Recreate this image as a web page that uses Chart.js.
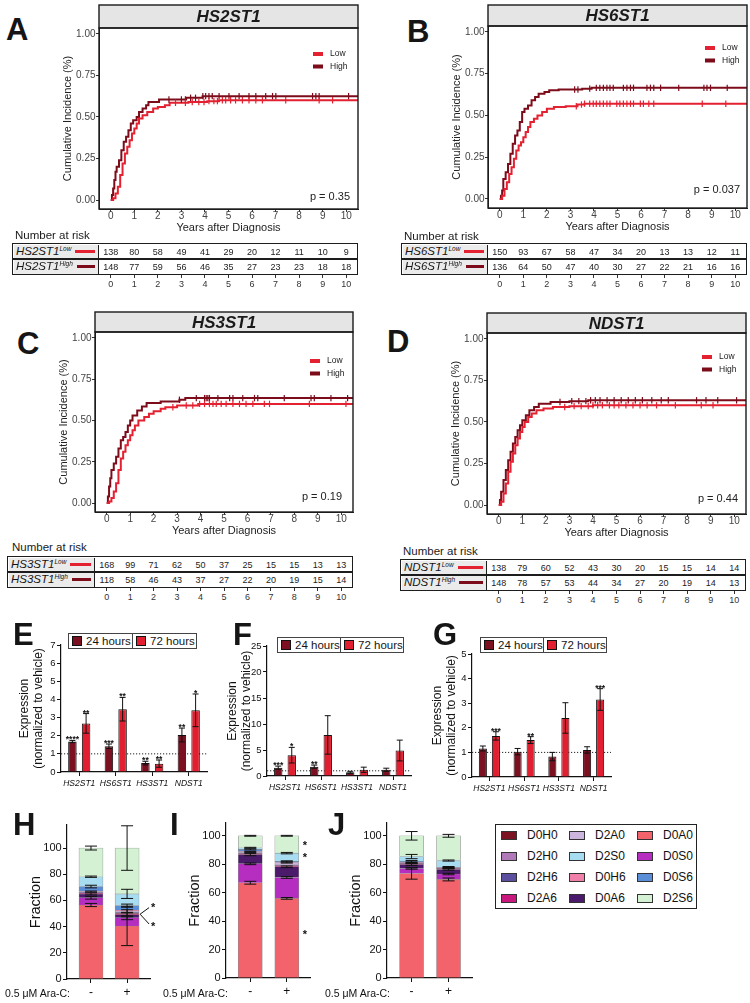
<!DOCTYPE html>
<html lang="en">
<head>
<meta charset="utf-8">
<title>Heparan sulfate enzymes figure</title>
<script src="https://cdn.jsdelivr.net/npm/chart.js@4.4.1/dist/chart.umd.min.js"></script>
<style>
  html, body { margin: 0; padding: 0; background: #fff; }
  #fig { position: relative; width: 750px; height: 1003px; overflow: hidden;
         font-family: "Liberation Sans", Arial, Helvetica, sans-serif; color: #151515; }
  #fig canvas { position: absolute; }
  .letter { position: absolute; font-weight: bold; font-size: 31px; line-height: 31px; }
</style>
</head>
<body>
<div id="fig"></div>
<script>
// ---------- cumulative incidence curves: [years, incidence] steps ----------
const kmTimes = [0, 1, 2, 3, 4, 5, 6, 7, 8, 9, 10];
const kmYTicks = [0, 0.25, 0.5, 0.75, 1];

const hs2Low = [[0,0],[0.1,0.01],[0.2,0.04],[0.3,0.08],[0.4,0.15],[0.5,0.22],[0.6,0.28],[0.7,0.32],[0.8,0.36],[0.9,0.40],[1.0,0.43],[1.1,0.46],[1.2,0.49],[1.35,0.51],[1.55,0.53],[1.8,0.55],[2.0,0.56],[2.3,0.57],[2.5,0.585],[3.3,0.59],[4.1,0.595],[4.6,0.60],[10.5,0.60]];
const hs2High = [[0,0],[0.05,0.03],[0.1,0.07],[0.15,0.12],[0.2,0.17],[0.25,0.2],[0.35,0.24],[0.45,0.3],[0.55,0.35],[0.65,0.38],[0.75,0.42],[0.85,0.46],[0.95,0.48],[1.1,0.5],[1.2,0.53],[1.35,0.55],[1.5,0.57],[1.6,0.59],[2.05,0.605],[3.2,0.615],[3.9,0.625],[10.5,0.625]];
const hs2LowCens = [2.75,3.17,3.46,3.74,3.96,4.17,4.38,4.53,4.74,4.88,5.09,5.3,5.59,5.87,6.16,6.44,7.43,8.85,9.42];
const hs2HighCens = [2.47,3.0,3.17,3.39,3.6,3.91,4.03,4.17,4.31,4.6,5.02,5.45,5.87,6.16,6.58,6.87,7.01,8.57,8.71,8.85,10.1];
const hs2RiskLow = [138,80,58,49,41,29,20,12,11,10,9];
const hs2RiskHigh = [148,77,59,56,46,35,27,23,23,18,18];

const hs6Low = [[0,0],[0.1,0.02],[0.2,0.06],[0.3,0.1],[0.4,0.15],[0.5,0.19],[0.6,0.24],[0.7,0.29],[0.8,0.32],[0.9,0.34],[1.0,0.37],[1.1,0.40],[1.2,0.43],[1.3,0.46],[1.45,0.48],[1.6,0.50],[1.8,0.52],[2.0,0.54],[2.3,0.55],[2.8,0.555],[3.3,0.565],[3.6,0.57],[10.5,0.57]];
const hs6High = [[0,0],[0.05,0.02],[0.1,0.05],[0.15,0.12],[0.25,0.16],[0.35,0.21],[0.45,0.27],[0.55,0.33],[0.65,0.38],[0.75,0.41],[0.85,0.46],[0.95,0.52],[1.05,0.54],[1.2,0.56],[1.35,0.59],[1.5,0.61],[1.65,0.63],[1.9,0.64],[2.1,0.65],[2.5,0.655],[3.5,0.66],[3.9,0.665],[10.5,0.665]];
const hs6LowCens = [3.25,3.47,3.6,3.82,3.97,4.1,4.25,4.4,4.55,4.68,4.97,5.1,5.25,5.4,5.55,5.68,5.97,6.1,6.33,6.54,8.6,9.6];
const hs6HighCens = [3.18,3.32,3.82,4.1,4.25,4.4,4.55,4.68,4.82,5.25,5.4,5.55,5.68,6.25,6.4,6.54,6.83,7.6,8.67,8.8,8.95,9.66];
const hs6RiskLow = [150,93,67,58,47,34,20,13,13,12,11];
const hs6RiskHigh = [136,64,50,47,40,30,27,22,21,16,16];

const hs3Low = [[0,0],[0.1,0.01],[0.2,0.03],[0.3,0.07],[0.4,0.12],[0.5,0.2],[0.6,0.27],[0.7,0.31],[0.8,0.35],[0.9,0.38],[1.0,0.41],[1.1,0.44],[1.2,0.47],[1.35,0.5],[1.6,0.52],[1.8,0.54],[2.0,0.555],[2.3,0.57],[2.5,0.58],[3.0,0.59],[3.9,0.6],[10.5,0.6]];
const hs3High = [[0,0],[0.05,0.04],[0.1,0.1],[0.15,0.15],[0.2,0.2],[0.3,0.24],[0.4,0.28],[0.5,0.33],[0.6,0.38],[0.7,0.4],[0.8,0.43],[0.9,0.47],[1.0,0.5],[1.1,0.53],[1.3,0.56],[1.5,0.585],[1.7,0.605],[2.3,0.615],[3.1,0.625],[3.35,0.635],[10.5,0.635]];
const hs3LowCens = [2.82,3.39,3.67,3.96,4.17,4.38,4.53,4.67,4.88,5.09,5.38,5.66,5.94,6.23,6.72,6.94,8.64,10.2];
const hs3HighCens = [3.1,3.82,4.17,4.24,4.31,4.38,4.74,5.24,5.38,5.8,6.3,6.44,7.57,8.71,8.85,9.56,10.27];
const hs3RiskLow = [168,99,71,62,50,37,25,15,15,13,13];
const hs3RiskHigh = [118,58,46,43,37,27,22,20,19,15,14];

const ndLow = [[0,0],[0.1,0.02],[0.2,0.07],[0.3,0.13],[0.4,0.2],[0.5,0.26],[0.6,0.31],[0.7,0.36],[0.8,0.4],[0.9,0.44],[1.0,0.47],[1.1,0.5],[1.25,0.53],[1.4,0.55],[1.6,0.57],[1.9,0.58],[2.3,0.59],[3.0,0.595],[4.0,0.60],[10.5,0.60]];
const ndHigh = [[0,0],[0.05,0.03],[0.1,0.08],[0.2,0.15],[0.3,0.21],[0.4,0.27],[0.5,0.32],[0.6,0.37],[0.7,0.41],[0.8,0.45],[0.9,0.48],[1.0,0.51],[1.15,0.54],[1.3,0.57],[1.5,0.59],[1.7,0.61],[2.2,0.62],[3.0,0.625],[3.8,0.63],[10.5,0.63]];
const ndLowCens = [2.8,3.2,3.5,3.8,4.0,4.2,4.4,4.7,4.9,5.1,5.4,5.7,6.0,6.3,6.7,7.5,8.6,9.1];
const ndHighCens = [2.6,3.1,3.4,3.7,3.9,4.1,4.3,4.6,4.9,5.2,5.5,5.8,6.1,6.5,6.9,7.2,8.4,8.8,9.3,10.1];
const ndRiskLow = [138,79,60,52,43,30,20,15,15,14,14];
const ndRiskHigh = [148,78,57,53,44,34,27,20,19,14,13];

// ---------- expression bars (E, F, G) ----------
const genes = ['HS2ST1', 'HS6ST1', 'HS3ST1', 'NDST1'];
const hourLabels = ['24 hours', '72 hours'];

const eMean24 = [1.68, 1.42, 0.49, 2.04];
const eErr24 = [0.06, 0.12, 0.1, 0.38];
const eMean72 = [2.68, 3.46, 0.46, 3.4];
const eErr72 = [0.54, 0.65, 0.2, 0.9];
const eSig24 = ['****', '***', '**', '**'];
const eSig72 = ['**', '**', '**', '*'];

const fMean24 = [1.6, 1.8, 0.7, 1.2];
const fErr24 = [0.3, 0.3, 0.2, 0.3];
const fMean72 = [4.0, 7.9, 1.2, 4.9];
const fErr72 = [1.5, 3.7, 0.5, 2.0];
const fSig24 = ['***', '**', '', ''];
const fSig72 = ['*', '', '', ''];

const gMean24 = [1.16, 1.03, 0.83, 1.1];
const gErr24 = [0.1, 0.13, 0.17, 0.13];
const gMean72 = [1.67, 1.5, 2.4, 3.15];
const gErr72 = [0.17, 0.14, 0.62, 0.44];
const gSig24 = ['', '', '', ''];
const gSig72 = ['***', '**', '', '***'];

// ---------- disaccharide composition (H, I, J) ----------
const araLabels = ['-', '+'];
const disNames = ['D0H0','D2H0','D2H6','D2A6','D2A0','D2S0','D0H6','D0A6','D0A0','D0S0','D0S6','D2S6'];
const disColors = ['#7b1323','#b07ab8','#5d4fa0','#c8187e','#cdb6dd','#a8dcf0','#f080aa','#4c1a6b','#f2636b','#b52ec0','#5a8fd8','#d4f1d4'];
const stackOrder = ['D0A0','D0S0','D0A6','D2A6','D0H0','D2H0','D2H6','D2A0','D0H6','D0S6','D2S0','D2S6'];
// rows follow stackOrder, columns follow araLabels (%)
const hFrac = [[56.5,40.5],[5.5,6.3],[3,2.2],[0.3,0.4],[0.3,0.6],[0.3,0.5],[0.4,0.6],[0.5,0.8],[0.3,0.6],[3.5,3.5],[7.5,9],[21.9,35]];
const hErr  = [[1.2,15],[1,1.5],[0.8,1.5],[0,0],[0,0],[0,0],[0,0],[0.4,1],[0,0],[1,1.2],[0.5,3.5],[1.5,17]];
const iFrac = [[67,56],[13.3,14.7],[6.5,7.5],[0.3,0.3],[0.3,0.3],[0.3,0.4],[0.3,0.4],[0.6,1.6],[0.3,0.3],[1.5,0.5],[1.2,5.8],[8.4,12.2]];
const iErr  = [[1,0.6],[0.6,0.6],[0.8,0.6],[0,0],[0,0],[0,0],[0,0],[0.3,0.4],[0,0],[0.4,0.4],[0.3,0.5],[0.3,0.3]];
const jFrac = [[73.5,69.3],[3.5,3.8],[2.8,3.2],[0.2,0.2],[0.2,0.2],[0.2,0.2],[0.2,0.2],[0.3,0.3],[0.2,0.2],[1.0,0.3],[3.3,4.7],[14.6,17.4]];
const jErr  = [[4,1],[0.5,0.5],[0.6,0.5],[0,0],[0,0],[0,0],[0,0],[0.3,0.3],[0,0],[0.5,0.5],[1.5,0.4],[3,1]];

const LOW_C = '#e42131', HIGH_C = '#7d0c1b';
const hourColors = ['#7a1020', '#e21f30'];
const FONT = '"Liberation Sans", Arial, Helvetica, sans-serif';

Chart.defaults.font.family = FONT;
Chart.defaults.color = '#222';
Chart.defaults.animation = false;
Chart.defaults.responsive = false;
Chart.defaults.plugins.legend.display = false;
Chart.defaults.plugins.tooltip.enabled = false;

// grey facet strip + panel frame (KM plots)
Chart.register({
  id: 'strip',
  afterDraw(chart, args, o) {
    if (!o.text) return;
    const { ctx, chartArea: a } = chart;
    ctx.save();
    ctx.fillStyle = '#e5e5e5';
    ctx.fillRect(a.left, a.top - o.height, a.right - a.left, o.height);
    ctx.lineWidth = 1.4;
    ctx.strokeStyle = '#1a1a1a';
    ctx.strokeRect(a.left, a.top - o.height, a.right - a.left, o.height);
    ctx.strokeRect(a.left, a.top, a.right - a.left, a.bottom - a.top);
    ctx.fillStyle = '#1a1a1a';
    ctx.font = 'italic bold 17px ' + FONT;
    ctx.textAlign = 'center';
    ctx.textBaseline = 'middle';
    ctx.fillText(o.text, (a.left + a.right) / 2, a.top - o.height / 2 + 1);
    ctx.restore();
  }
});

// Low / High key inside the KM panel
Chart.register({
  id: 'kmLegend',
  afterDraw(chart, args, o) {
    if (!o.dx) return;
    const { ctx, chartArea: a } = chart;
    const items = chart.data.datasets.filter(d => d.legend);
    ctx.save();
    ctx.font = '8.5px ' + FONT;
    ctx.textBaseline = 'middle';
    items.forEach((d, i) => {
      const x = a.right - o.dx, y = a.top + o.dy + i * 12.5;
      ctx.fillStyle = d.borderColor;
      ctx.fillRect(x, y - 2, 10, 4);
      ctx.fillStyle = '#222';
      ctx.fillText(d.label, x + 17, y);
    });
    ctx.restore();
  }
});

Chart.register({
  id: 'pval',
  afterDraw(chart, args, o) {
    if (!o.text) return;
    const { ctx, chartArea: a } = chart;
    ctx.save();
    ctx.font = '11px ' + FONT;
    ctx.fillStyle = '#222';
    ctx.textAlign = 'right';
    ctx.textBaseline = 'middle';
    ctx.fillText(o.text, a.right - o.dx, a.bottom - o.dy);
    ctx.restore();
  }
});

// dotted vehicle line
Chart.register({
  id: 'refLine',
  beforeDatasetsDraw(chart, args, o) {
    if (o.value === undefined) return;
    const { ctx, chartArea: a } = chart;
    const y = chart.scales.y.getPixelForValue(o.value);
    ctx.save();
    ctx.strokeStyle = '#222';
    ctx.lineWidth = 1;
    ctx.setLineDash([1.2, 1.8]);
    ctx.beginPath();
    ctx.moveTo(a.left, y);
    ctx.lineTo(a.right, y);
    ctx.stroke();
    ctx.restore();
  }
});

// error bars (+ significance stars) from dataset.errors / dataset.sig
Chart.register({
  id: 'errBars',
  afterDatasetsDraw(chart, args, o) {
    if (!o.cap) return;
    const { ctx } = chart;
    const ys = chart.scales.y;
    const stacked = !!chart.options.scales.y.stacked;
    const base = [];
    ctx.save();
    ctx.strokeStyle = '#111';
    ctx.fillStyle = '#111';
    ctx.lineWidth = 1;
    ctx.font = 'bold 8.5px ' + FONT;
    ctx.textAlign = 'center';
    ctx.textBaseline = 'alphabetic';
    chart.data.datasets.forEach((ds, di) => {
      const meta = chart.getDatasetMeta(di);
      ds.data.forEach((d, i) => {
        const v = (d !== null && typeof d === 'object') ? d.y : d;
        const top = (stacked ? (base[i] || 0) : 0) + v;
        if (stacked) base[i] = top;
        const e = ds.errors ? ds.errors[i] : 0;
        const x = meta.data[i].x;
        const y1 = ys.getPixelForValue(top + e), y0 = ys.getPixelForValue(top - e);
        if (e > 0) {
          const h = o.cap / 2;
          ctx.beginPath();
          ctx.moveTo(x, y0); ctx.lineTo(x, y1);
          ctx.moveTo(x - h, y1); ctx.lineTo(x + h, y1);
          ctx.moveTo(x - h, y0); ctx.lineTo(x + h, y0);
          ctx.stroke();
        }
        if (ds.sig && ds.sig[i]) ctx.fillText(ds.sig[i], x, y1 + 2);
      });
    });
    ctx.restore();
  }
});

const fig = document.getElementById('fig');
function el(tag, css, html) {
  const e = document.createElement(tag);
  e.style.cssText = css;
  if (html !== undefined) e.innerHTML = html;
  fig.appendChild(e);
  return e;
}
function canvasAt(l, t, w, h) {
  const c = document.createElement('canvas');
  c.width = w; c.height = h;
  c.style.cssText = `left:${l}px;top:${t}px;width:${w}px;height:${h}px;`;
  fig.appendChild(c);
  return c;
}
function textAt(x, y, html, css, align) {
  const tx = align === 'left' ? '0' : align === 'right' ? '-100%' : '-50%';
  return el('div', `position:absolute;left:${x}px;top:${y}px;transform:translate(${tx},-50%);white-space:nowrap;line-height:1;${css || ''}`, html);
}
function letter(ch, x, y) { el('div', `left:${x}px;top:${y}px;`, ch).className = 'letter'; }
function stepAt(steps, t) {
  let v = 0;
  steps.forEach(s => { if (s[0] <= t) v = s[1]; });
  return v;
}

function drawKM(p) {
  const ML = 46, MT = 24, MR = 6, MB = 28;
  const b = p.box;
  const cvLeft = b.l - ML;
  const c = canvasAt(cvLeft, b.t - MT, b.r - b.l + ML + MR, b.b - b.t + MT + MB);
  const curve = (label, steps, color) => ({
    label, legend: true, data: steps.map(s => ({ x: s[0], y: s[1] })),
    borderColor: color, backgroundColor: color, borderWidth: 2, stepped: true, pointRadius: 0, fill: false
  });
  const cens = (steps, times, color) => ({
    data: times.map(t => ({ x: t, y: stepAt(steps, t) })), showLine: false,
    pointStyle: 'line', pointRadius: 3.2, pointRotation: 90, pointBorderColor: color, pointBorderWidth: 1.2,
    borderColor: color
  });
  const axisGrid = { drawOnChartArea: false, tickLength: 3, color: '#333' };
  const chart = new Chart(c, {
    type: 'line',
    data: { datasets: [
      cens(p.low, p.lowCens, LOW_C), cens(p.high, p.highCens, HIGH_C),
      curve('Low', p.low, LOW_C), curve('High', p.high, HIGH_C)
    ] },
    options: {
      layout: { padding: { top: MT, right: MR, left: 0, bottom: 0 } },
      plugins: {
        strip: { text: p.gene, height: p.strip },
        kmLegend: { dx: p.legDx, dy: p.legDy },
        pval: { text: p.p, dx: p.pDx, dy: p.pDy }
      },
      scales: {
        x: {
          type: 'linear', min: -0.5, max: 10.5,
          afterBuildTicks: s => { s.ticks = kmTimes.map(v => ({ value: v })); },
          afterFit: s => { s.height = MB; s.paddingLeft = 0; s.paddingRight = 0; },
          grid: axisGrid, border: { color: '#222', width: 1 },
          ticks: { padding: -1.5, font: { size: 10 }, color: '#444', maxRotation: 0, autoSkip: false },
          title: { display: true, text: 'Years after Diagnosis', font: { size: 11 }, color: '#222', padding: { top: 0, bottom: 2.4 } }
        },
        y: {
          min: -0.054, max: 1.035,
          afterBuildTicks: s => { s.ticks = kmYTicks.map(v => ({ value: v })); },
          afterFit: s => { s.width = ML; s.paddingTop = 0; s.paddingBottom = 0; },
          grid: axisGrid, border: { color: '#222', width: 1 },
          ticks: { padding: 0.5, font: { size: 10 }, color: '#444', callback: v => v.toFixed(2) },
          title: { display: true, text: 'Cumulative Incidence (%)', font: { size: 11 }, color: '#222', padding: { top: 8, bottom: 0 } }
        }
      }
    }
  });
  riskTable(chart, cvLeft, p);
}

function riskTable(chart, cvLeft, p) {
  const T = p.table.t, L = p.table.l, LR = p.table.lr, R = p.box.r;
  const xs = chart.scales.x;
  textAt(p.table.tx, p.table.ty, 'Number at risk', 'font-size:11.5px;color:#1a1a1a;', 'left');
  el('div', `position:absolute;left:${L}px;top:${T}px;width:${R - L}px;height:32px;border:1.5px solid #1d1d1d;box-sizing:border-box;`);
  el('div', `position:absolute;left:${L + 1.5}px;top:${T + 1.5}px;width:${LR - L - 1.5}px;height:29px;background:#ebebeb;border-right:1.5px solid #1d1d1d;box-sizing:border-box;`);
  el('div', `position:absolute;left:${L}px;top:${T + 15.25}px;width:${R - L}px;height:1.5px;background:#1d1d1d;`);
  const rows = [[p.riskLow, 'Low', LOW_C], [p.riskHigh, 'High', HIGH_C]];
  rows.forEach(([vals, grp, color], r) => {
    const cy = T + 8.5 + r * 15;
    el('div', `position:absolute;left:${L + 4}px;top:${cy - 7}px;width:${LR - L - 8}px;height:14px;display:flex;align-items:center;`,
      `<span style="font-style:italic;font-size:11.5px;white-space:nowrap;line-height:1">${p.gene}<sup style="font-size:6.5px;vertical-align:4px">${grp}</sup></span>` +
      `<span style="flex:1;height:2.5px;background:${color};margin-left:4px"></span>`);
    vals.forEach((v, i) => textAt(cvLeft + xs.getPixelForValue(kmTimes[i]), cy, v, 'font-size:9px;color:#222;'));
  });
  kmTimes.forEach(t => {
    const x = cvLeft + xs.getPixelForValue(t);
    el('div', `position:absolute;left:${x - 0.5}px;top:${T + 32}px;width:1px;height:2.5px;background:#333;`);
    textAt(x, T + 40.5, t, 'font-size:9px;color:#333;');
  });
}

function drawBars(p) {
  const ML = p.ml, MT = 10, MR = 6, MB = 20;
  const c = canvasAt(p.l - ML, p.t - MT, p.r - p.l + ML + MR, p.b - p.t + MT + MB);
  const ds = (k, data, errors, sig) => ({
    label: hourLabels[k], data, errors, sig, backgroundColor: hourColors[k],
    borderColor: '#111', borderWidth: 1, categoryPercentage: 0.75, barPercentage: 0.62
  });
  new Chart(c, {
    type: 'bar',
    data: { labels: genes, datasets: [ds(0, p.v24, p.e24, p.s24), ds(1, p.v72, p.e72, p.s72)] },
    options: {
      layout: { padding: { top: MT, right: MR, left: 0, bottom: 0 } },
      plugins: { refLine: { value: 1 }, errBars: { cap: 6 } },
      scales: {
        x: {
          grid: { offset: false, drawOnChartArea: false, tickLength: 4, color: '#111' },
          border: { color: '#111', width: 1.2 },
          ticks: { font: { size: 8.5, style: 'italic' }, color: '#111', padding: 2.5, maxRotation: 0, autoSkip: false },
          afterFit: s => { s.height = MB; s.paddingLeft = 0; s.paddingRight = 0; }
        },
        y: {
          min: 0, max: p.yMax,
          ticks: { stepSize: p.step, font: { size: 9.5 }, color: '#111', padding: 1.5 },
          grid: { drawOnChartArea: false, tickLength: 4, color: '#111' },
          border: { color: '#111', width: 1.2 },
          title: { display: true, text: ['Expression', '(normalized to vehicle)'], font: { size: 12, lineHeight: 1.15 }, color: '#111', padding: { top: p.tp, bottom: 0 } },
          afterFit: s => { s.width = ML; s.paddingTop = 0; s.paddingBottom = 0; }
        }
      }
    }
  });
  // boxed key above the bars
  const box = el('div', `position:absolute;left:${p.leg[0]}px;top:${p.leg[1]}px;width:${p.leg[2]}px;height:16px;border:1px solid #444;box-sizing:border-box;display:flex;background:#fff;`);
  hourLabels.forEach((lab, i) => {
    const cell = document.createElement('div');
    cell.style.cssText = `flex:1;display:flex;align-items:center;padding-left:3px;font-size:11.5px;white-space:nowrap;${i ? 'border-left:1px solid #444;' : ''}`;
    cell.innerHTML = `<span style="display:inline-block;width:10px;height:10px;background:${hourColors[i]};border:1px solid #111;box-sizing:border-box;margin-right:4px"></span>${lab}`;
    box.appendChild(cell);
  });
}

function drawStack(p) {
  const ML = 50, MT = 8, MR = 8, MB = 24;
  const c = canvasAt(p.l - ML, p.t - MT, p.r - p.l + ML + MR, p.b - p.t + MT + MB);
  const datasets = stackOrder.map((name, k) => ({
    label: name,
    data: p.frac[k].map((v, i) => ({ x: i + 1, y: v })),
    errors: p.err[k],
    backgroundColor: disColors[disNames.indexOf(name)],
    borderColor: '#8c8c8c', borderWidth: 0.6, barThickness: 24, stack: 'all'
  }));
  const marks = {
    id: 'marks',
    afterDatasetsDraw(chart) {
      const { ctx, scales: { x, y } } = chart;
      ctx.save();
      ctx.fillStyle = '#111'; ctx.strokeStyle = '#111'; ctx.lineWidth = 1;
      ctx.font = 'bold 11px ' + FONT;
      ctx.textAlign = 'center'; ctx.textBaseline = 'middle';
      (p.links || []).forEach(l => {
        ctx.beginPath();
        ctx.moveTo(x.getPixelForValue(l[0]) + l[1], y.getPixelForValue(l[2]));
        ctx.lineTo(x.getPixelForValue(l[0]) + l[3], y.getPixelForValue(l[4]));
        ctx.stroke();
      });
      (p.stars || []).forEach(s => ctx.fillText('*', x.getPixelForValue(s[0]) + s[1], y.getPixelForValue(s[2]) + 2));
      ctx.restore();
    }
  };
  new Chart(c, {
    type: 'bar',
    data: { datasets },
    plugins: [marks],
    options: {
      layout: { padding: { top: MT, right: MR, left: 0, bottom: 0 } },
      plugins: { errBars: { cap: 12 } },
      scales: {
        x: {
          type: 'linear', min: 0.335, max: 2.635, offset: false,
          afterBuildTicks: s => { s.ticks = araLabels.map((l, i) => ({ value: i + 1 })); },
          afterFit: s => { s.height = MB; s.paddingLeft = 0; s.paddingRight = 0; },
          grid: { offset: false, drawOnChartArea: false, tickLength: 4, color: '#111' },
          border: { color: '#111', width: 1.2 },
          ticks: { callback: v => araLabels[v - 1], font: { size: 12 }, color: '#111', padding: 2.8 }
        },
        y: {
          stacked: true, min: 0, max: p.yMax,
          ticks: { stepSize: 20, includeBounds: false, font: { size: 11 }, color: '#111', padding: 1.3 },
          grid: { drawOnChartArea: false, tickLength: 4, color: '#111' },
          border: { color: '#111', width: 1.2 },
          title: { display: true, text: 'Fraction', font: { size: 14.5 }, color: '#111', padding: { top: 10.3, bottom: 0 } },
          afterFit: s => { s.width = ML; s.paddingTop = 0; s.paddingBottom = 0; }
        }
      }
    }
  });
  textAt(p.araX, 993, '0.5 μM Ara-C:', 'font-size:10.5px;color:#111;', 'left');
}

function disLegend(l, t, w, h) {
  el('div', `position:absolute;left:${l}px;top:${t}px;width:${w}px;height:${h}px;border:1.5px solid #222;box-sizing:border-box;`);
  disNames.forEach((name, k) => {
    const col = Math.floor(k / 4), row = k % 4;
    const x = l + 6 + col * 68, y = t + 11 + row * 21;
    el('div', `position:absolute;left:${x}px;top:${y - 4.5}px;width:16px;height:9px;background:${disColors[k]};border:1px solid #333;box-sizing:border-box;`);
    textAt(x + 26, y, name, 'font-size:12px;color:#111;', 'left');
  });
}

// ---------- panels ----------
drawKM({ gene: 'HS2ST1', box: { l: 99, t: 28, r: 358, b: 209 }, strip: 23,
  low: hs2Low, high: hs2High, lowCens: hs2LowCens, highCens: hs2HighCens,
  p: 'p = 0.35', pDx: 8, pDy: 12, legDx: 45, legDy: 26,
  table: { l: 12, t: 243, lr: 99, tx: 15, ty: 236 }, riskLow: hs2RiskLow, riskHigh: hs2RiskHigh });
drawKM({ gene: 'HS6ST1', box: { l: 488, t: 26, r: 747, b: 208 }, strip: 21,
  low: hs6Low, high: hs6High, lowCens: hs6LowCens, highCens: hs6HighCens,
  p: 'p = 0.037', pDx: 7, pDy: 18, legDx: 42, legDy: 22,
  table: { l: 401, t: 243, lr: 488, tx: 404, ty: 237 }, riskLow: hs6RiskLow, riskHigh: hs6RiskHigh });
drawKM({ gene: 'HS3ST1', box: { l: 95, t: 332, r: 353, b: 512 }, strip: 20,
  low: hs3Low, high: hs3High, lowCens: hs3LowCens, highCens: hs3HighCens,
  p: 'p = 0.19', pDx: 11, pDy: 15, legDx: 43, legDy: 29,
  table: { l: 7, t: 556, lr: 95, tx: 12, ty: 548 }, riskLow: hs3RiskLow, riskHigh: hs3RiskHigh });
drawKM({ gene: 'NDST1', box: { l: 487, t: 333, r: 746, b: 514 }, strip: 20,
  low: ndLow, high: ndHigh, lowCens: ndLowCens, highCens: ndHighCens,
  p: 'p = 0.44', pDx: 8, pDy: 15, legDx: 44, legDy: 24,
  table: { l: 400, t: 559, lr: 487, tx: 403, ty: 552 }, riskLow: ndRiskLow, riskHigh: ndRiskHigh });

drawBars({ l: 61, t: 645, r: 207, b: 772, ml: 61, tp: 18, yMax: 7, step: 1,
  v24: eMean24, e24: eErr24, s24: eSig24, v72: eMean72, e72: eErr72, s72: eSig72, leg: [68, 633, 129] });
drawBars({ l: 267, t: 646, r: 411, b: 776, ml: 55, tp: 14, yMax: 25, step: 5,
  v24: fMean24, e24: fErr24, s24: fSig24, v72: fMean72, e72: fErr72, s72: fSig72, leg: [277, 637, 127] });
drawBars({ l: 472, t: 654, r: 611, b: 777, ml: 45, tp: 4, yMax: 5, step: 1,
  v24: gMean24, e24: gErr24, s24: gSig24, v72: gMean72, e72: gErr72, s72: gSig72, leg: [480, 637, 127] });

drawStack({ l: 67, t: 825, r: 150, b: 979, yMax: 117.6, frac: hFrac, err: hErr, araX: 5,
  links: [[2, 13, 49.5, 22, 54.5], [2, 13, 49.5, 22, 42]], stars: [[2, 26, 55.5], [2, 26, 41]] });
drawStack({ l: 226, t: 823, r: 310, b: 978, yMax: 109, frac: iFrac, err: iErr, araX: 163,
  stars: [[2, 18, 94], [2, 18, 86], [2, 18, 32]] });
drawStack({ l: 387, t: 823, r: 472, b: 978, yMax: 109, frac: jFrac, err: jErr, araX: 325 });
disLegend(495, 824, 202, 85);

[['A', 6, 14], ['B', 407, 16], ['C', 17, 328], ['D', 387, 326], ['E', 13, 619], ['F', 233, 619],
 ['G', 433, 619], ['H', 13, 809], ['I', 170, 809], ['J', 328, 809]].forEach(a => letter(a[0], a[1], a[2]));
</script>
</body>
</html>
